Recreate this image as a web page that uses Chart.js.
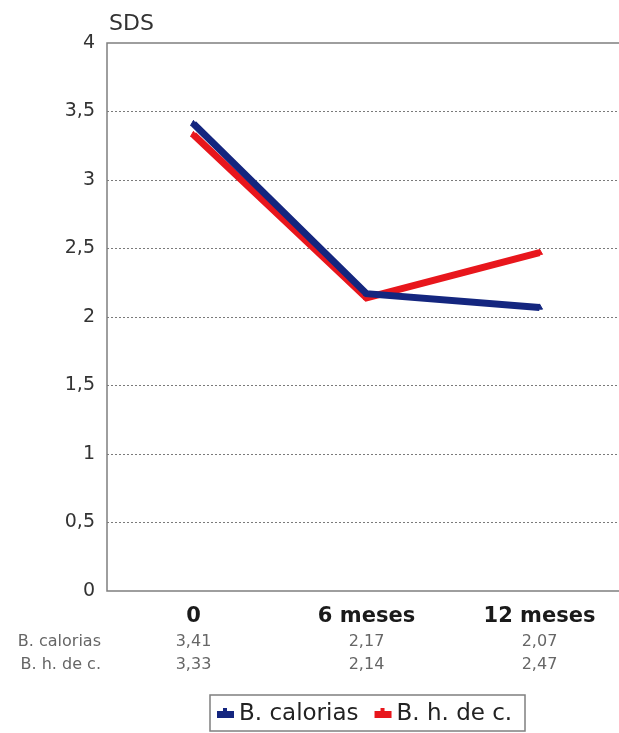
<!DOCTYPE html>
<html>
<head>
<meta charset="utf-8">
<script src="https://cdn.jsdelivr.net/npm/chart.js@4"></script>
<style>
  html, body { margin: 0; padding: 0; background: #fff; overflow: hidden; }
  #wrap { width: 619px; height: 733px; overflow: hidden; position: relative; }
  #box { width: 640px; height: 733px; }
</style>
</head>
<body>
<div id="wrap"><div id="box"><canvas id="c" width="640" height="733"></canvas></div></div>
<script>
// Periods on the x axis
const periods = ['0', '6 meses', '12 meses'];
// SDS per group
const calorias = [3.41, 2.17, 2.07];
const hidratos = [3.33, 2.14, 2.47];
const seriesNames = ['B. calorias', 'B. h. de c.'];
// y axis ticks
const yTicks = [0, 0.5, 1, 1.5, 2, 2.5, 3, 3.5, 4];

const BLUE = '#14267f';
const RED = '#e8161c';
const FONT = '"DejaVu Sans", Verdana, sans-serif';
const fmt = v => String(v).replace('.', ',');

// Frame, table of values, axis title and legend
const extras = {
  id: 'extras',
  afterDraw(chart) {
    const ctx = chart.ctx;
    const xs = chart.scales.x, ys = chart.scales.y;
    const area = chart.chartArea;
    const top = ys.getPixelForValue(4), bottom = ys.getPixelForValue(0);
    ctx.save();
    // solid axis lines and top frame
    ctx.strokeStyle = '#7f7f7f';
    ctx.lineWidth = 1.5;
    ctx.beginPath();
    ctx.moveTo(area.right, top);
    ctx.lineTo(area.left, top);
    ctx.lineTo(area.left, bottom);
    ctx.lineTo(area.right, bottom);
    ctx.stroke();

    // axis title
    ctx.fillStyle = '#333';
    ctx.font = '22px ' + FONT;
    ctx.textAlign = 'left';
    ctx.textBaseline = 'middle';
    ctx.fillText('SDS', area.left + 2, top - 19);

    // data table under the axis
    const rowY = [642, 665];
    ctx.font = '16px ' + FONT;
    ctx.fillStyle = '#666';
    chart.data.datasets.forEach((ds, r) => {
      ctx.textAlign = 'right';
      ctx.fillText(ds.label, 101, rowY[r]);
      ctx.textAlign = 'center';
      ds.data.forEach((v, i) => {
        ctx.fillText(fmt(v), xs.getPixelForValue(i), rowY[r]);
      });
    });

    // legend box
    const lx = 210, ly = 695, lw = 315, lh = 36;
    ctx.strokeStyle = '#7f7f7f';
    ctx.lineWidth = 1.5;
    ctx.strokeRect(lx, ly, lw, lh);
    ctx.font = '23px ' + FONT;
    ctx.textAlign = 'left';
    let cx = lx + 7;
    chart.data.datasets.forEach((ds) => {
      ctx.fillStyle = ds.borderColor;
      ctx.fillRect(cx, ly + 16, 17, 7);
      ctx.fillRect(cx + 6, ly + 13, 4, 4);
      ctx.fillStyle = '#222';
      ctx.fillText(ds.label, cx + 22, ly + lh / 2 + 1);
      cx += 22 + ctx.measureText(ds.label).width + 16;
    });
    ctx.restore();
  }
};

new Chart(document.getElementById('c'), {
  type: 'line',
  data: {
    labels: periods,
    datasets: [
      { label: seriesNames[0], data: calorias, borderColor: BLUE, backgroundColor: BLUE,
        borderWidth: 7, pointStyle: 'triangle', pointRadius: 3.5, pointBorderWidth: 1, tension: 0 },
      { label: seriesNames[1], data: hidratos, borderColor: RED, backgroundColor: RED,
        borderWidth: 7, pointStyle: 'triangle', pointRadius: 3.5, pointBorderWidth: 1, tension: 0 }
    ]
  },
  options: {
    responsive: false,
    animation: false,
    layout: { padding: { top: 43, right: 14, bottom: 107, left: 0 } },
    plugins: { legend: { display: false }, tooltip: { enabled: false } },
    scales: {
      x: {
        offset: true,
        grid: { display: false },
        border: { display: false },
        ticks: {
          color: '#1a1a1a',
          font: { family: FONT, size: 21, weight: 'bold' },
          padding: 5
        },
        afterFit(s) { s.height = 35; }
      },
      y: {
        min: 0, max: 4,
        afterBuildTicks(s) { s.ticks = yTicks.map(v => ({ value: v })); },
        grid: {
          drawTicks: false,
          color: c => (c.tick && (c.tick.value === 0 || c.tick.value === 4)) ? 'rgba(0,0,0,0)' : '#7a7a7a',
          lineWidth: 1
        },
        border: { display: false, dash: [2, 2] },
        ticks: {
          color: '#333',
          padding: 12,
          font: { family: FONT, size: 19 },
          callback: v => fmt(v)
        },
        afterFit(s) { s.width = 107; }
      }
    }
  },
  plugins: [extras]
});
</script>
</body>
</html>
